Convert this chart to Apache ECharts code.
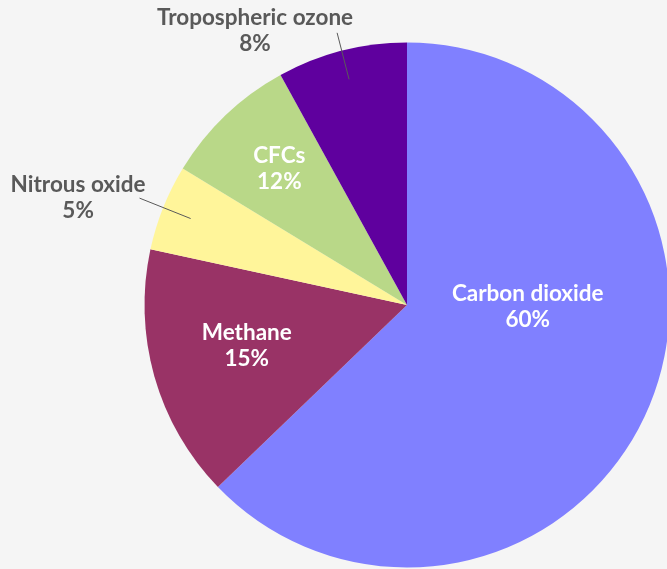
<!DOCTYPE html>
<html><head><meta charset="utf-8">
<script src="https://cdn.jsdelivr.net/npm/echarts@6/dist/echarts.min.js"></script>
<style>html,body{margin:0;padding:0;background:#f5f5f5}#c{width:667px;height:569px}</style>
</head><body><div id="c"></div>
<script>
// ---- data (slice sizes; label texts as printed) ----
const categories = ['Carbon dioxide', 'Methane', 'Nitrous oxide', 'CFCs', 'Tropospheric ozone'];
const values = [62.8, 15.6, 5.3, 8.3, 8.0];
const percentLabels = ['60%', '15%', '5%', '12%', '8%'];

// ---- styles / layout ----
const colors = ['#8080ff', '#993366', '#fff59a', '#b9d888', '#5f009e'];
const CX = 407, CY = 305, R = 262.5, R_GUIDE = 233;
const FONT = { fontFamily: 'Lato', fontWeight: 'bold', fontSize: 22.5, lineHeight: 26 };
const placement = {
  'Carbon dioxide': { inside: true, rf: 0.46, rot: -22 },
  'Methane': { inside: true, rf: 0.63, rot: 1.5 },
  'CFCs': { inside: true, rf: 0.71, rot: 0.5 },
  'Nitrous oxide': { inside: false, len: 55, dist: -6, pad: [0, 0, 0, 0] },
  'Tropospheric ozone': { inside: false, len: 48, dist: -16, pad: [0, 0, 4, 0] }
};

function richFor(color) {
  return { n: Object.assign({ color: color, align: 'center' }, FONT) };
}
const fmt = (p) => '{n|' + p.name + '}\n{n|' + percentLabels[p.dataIndex] + '}';

// main pie: slices + inside labels
const mainData = categories.map((name, i) => {
  const p = placement[name];
  return {
    name: name,
    value: values[i],
    itemStyle: { color: colors[i] },
    label: { show: p.inside }
  };
});

// transparent guide pie: leader lines + outside labels
const guideData = categories.map((name, i) => {
  const p = placement[name];
  return {
    name: name,
    value: values[i],
    label: p.inside ? { show: false } : { show: true, distanceToLabelLine: p.dist, padding: p.pad },
    labelLine: p.inside ? { show: false } : { show: true, length: p.len, length2: 0 }
  };
});

const chart = echarts.init(document.getElementById('c'), null, { renderer: 'canvas' });
chart.setOption({
  backgroundColor: '#f5f5f5',
  animation: false,
  series: [{
    type: 'pie',
    z: 2,
    center: [CX, CY],
    radius: R,
    startAngle: 90,
    clockwise: true,
    avoidLabelOverlap: false,
    emphasis: { disabled: true },
    silent: true,
    itemStyle: { borderWidth: 0 },
    label: {
      position: 'inside',
      formatter: fmt,
      rich: richFor('#ffffff')
    },
    labelLine: { show: false },
    labelLayout: function (params) {
      const p = placement[categories[params.dataIndex]];
      const lr = params.labelRect;
      const lx = lr.x + lr.width / 2, ly = lr.y + lr.height / 2;
      const a = Math.atan2(ly - CY, lx - CX) + p.rot * Math.PI / 180;
      return {
        x: CX + p.rf * R * Math.cos(a),
        y: CY + p.rf * R * Math.sin(a),
        align: 'center', verticalAlign: 'middle'
      };
    },
    data: mainData
  }, {
    type: 'pie',
    z: 5,
    center: [CX, CY],
    radius: R_GUIDE,
    startAngle: 90,
    clockwise: true,
    avoidLabelOverlap: false,
    emphasis: { disabled: true },
    silent: true,
    itemStyle: { color: 'rgba(0,0,0,0)', borderWidth: 0 },
    label: {
      position: 'outside',
      formatter: fmt,
      rich: richFor('#595959')
    },
    labelLine: { showAbove: true, lineStyle: { color: '#5a5a5a', width: 1 } },
    data: guideData
  }]
});
</script>
</body></html>
